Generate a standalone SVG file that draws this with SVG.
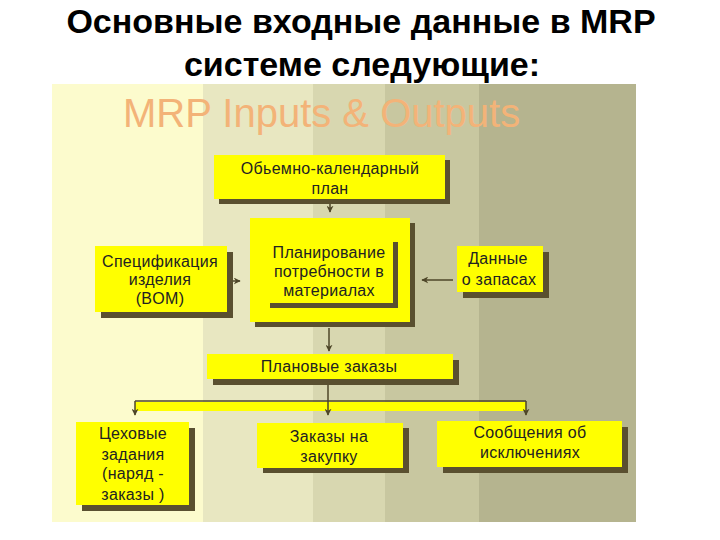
<svg xmlns="http://www.w3.org/2000/svg" width="720" height="540" viewBox="0 0 720 540">
<defs>
<style>
.title{font-family:"Liberation Sans",Arial,sans-serif;font-weight:bold;font-size:34px;fill:#000;text-anchor:middle}
.sub{font-family:"Liberation Sans",Arial,sans-serif;font-size:40px;fill:#F3B378;text-anchor:start}
.box{fill:#FFFF00}
.sh{fill:#5A5030}
.t{font-family:"Liberation Sans",Arial,sans-serif;font-size:16px;letter-spacing:0.3px;fill:#222;text-anchor:middle}
.ln{stroke:#4E4628;stroke-width:1.5;fill:none}
</style>
<marker id="ah" viewBox="0 0 10 10" refX="9" refY="5" markerWidth="7" markerHeight="7" markerUnits="userSpaceOnUse" orient="auto">
<path d="M0,0 L10,5 L0,10 L3,5 z" fill="#4E4628"/>
</marker>
</defs>
<rect width="720" height="540" fill="#FFFFFF"/>
<g id="background">
<rect x="52" y="84" width="151" height="438" fill="#FCFBCD"/>
<rect x="203" y="84" width="110" height="438" fill="#E8E7C1"/>
<rect x="313" y="84" width="72" height="438" fill="#D8D7B0"/>
<rect x="385" y="84" width="94" height="438" fill="#C8C7A0"/>
<rect x="479" y="84" width="157" height="438" fill="#B5B48F"/>
</g>
<g id="titles">
<text class="title" x="361" y="33">Основные входные данные в MRP</text>
<text class="title" x="362" y="76">системе следующие:</text>
<text class="sub" x="123" y="127">MRP Inputs &amp; Outputs</text>
</g>
<g id="connectors">
<line class="ln" x1="330" y1="193" x2="330" y2="212" marker-end="url(#ah)"/>
<line class="ln" x1="208" y1="281" x2="240" y2="281" marker-end="url(#ah)"/>
<line class="ln" x1="453" y1="280" x2="422" y2="280" marker-end="url(#ah)"/>
<line class="ln" x1="329" y1="328" x2="329" y2="351" marker-end="url(#ah)"/>
<line class="ln" x1="328" y1="384" x2="328" y2="401"/>
<rect x="135" y="402" width="391" height="9" fill="#FFFF00"/>
<path class="ln" d="M135,401 H526"/>
<line class="ln" x1="135" y1="401" x2="135" y2="415" marker-end="url(#ah)"/>
<line class="ln" x1="328" y1="401" x2="328" y2="415" marker-end="url(#ah)"/>
<line class="ln" x1="526" y1="401" x2="526" y2="415" marker-end="url(#ah)"/>
</g>
<g id="node-mps">
<rect class="sh" x="219" y="160" width="231" height="44"/>
<rect class="box" x="214" y="155" width="231" height="44"/>
<text class="t" x="330" y="174">Обьемно-календарный</text>
<text class="t" x="330" y="194">план</text>
</g>
<g id="node-mrp">
<rect class="sh" x="255" y="223" width="160" height="104"/>
<rect class="box" x="250" y="218" width="160" height="104"/>
<rect class="sh" x="270" y="242" width="128" height="66"/>
<rect class="box" x="265" y="237" width="128" height="66"/>
<text class="t" x="329" y="258">Планирование</text>
<text class="t" x="329" y="277">потребности в</text>
<text class="t" x="329" y="296">материалах</text>
</g>
<g id="node-bom">
<rect class="sh" x="101" y="252" width="132" height="66"/>
<rect class="box" x="95" y="246" width="132" height="66"/>
<text class="t" x="160" y="267">Спецификация</text>
<text class="t" x="160" y="285">изделия</text>
<text class="t" x="160" y="304">(BOM)</text>
</g>
<g id="node-inventory">
<rect class="sh" x="463" y="252" width="86" height="46"/>
<rect class="box" x="457" y="246" width="86" height="46"/>
<text class="t" x="498" y="264">Данные</text>
<text class="t" x="499" y="285">о запасах</text>
</g>
<g id="node-planned">
<rect class="sh" x="213" y="360" width="246" height="25"/>
<rect class="box" x="207" y="354" width="246" height="25"/>
<text class="t" x="329" y="372">Плановые заказы</text>
</g>
<g id="node-shop">
<rect class="sh" x="82" y="428" width="113" height="83"/>
<rect class="box" x="76" y="422" width="113" height="83"/>
<text class="t" x="133" y="439">Цеховые</text>
<text class="t" x="133" y="460">задания</text>
<text class="t" x="133" y="479">(наряд -</text>
<text class="t" x="133" y="500">заказы )</text>
</g>
<g id="node-purchase">
<rect class="sh" x="263" y="428" width="146" height="45"/>
<rect class="box" x="257" y="423" width="146" height="45"/>
<text class="t" x="329" y="442">Заказы на</text>
<text class="t" x="329" y="462">закупку</text>
</g>
<g id="node-exceptions">
<rect class="sh" x="443" y="427" width="185" height="46"/>
<rect class="box" x="437" y="421" width="185" height="46"/>
<text class="t" x="530" y="438">Сообщения об</text>
<text class="t" x="530" y="458">исключениях</text>
</g>
</svg>
